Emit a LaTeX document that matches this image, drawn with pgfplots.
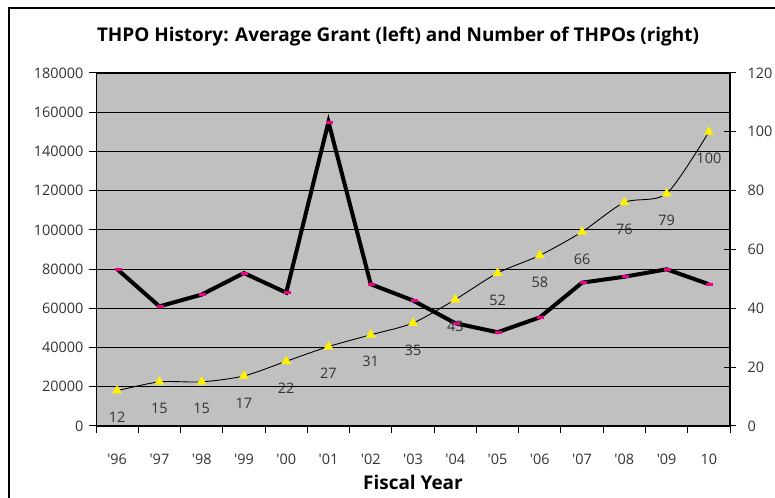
\documentclass[border=0pt]{standalone}
\usepackage{pgfplots}
\pgfplotsset{compat=1.18}
\usepackage{fontspec}
\setmainfont{Open Sans}
\definecolor{plotgray}{HTML}{C0C0C0}
\definecolor{txtgray}{HTML}{333333}
\begin{document}
\begin{tikzpicture}[x=1bp,y=1bp]
\clip (0,0) rectangle (775,498);
\useasboundingbox (0,0) rectangle (775,498);
\fill[white] (0,0) rectangle (775,498);
\draw[line width=1.2bp] (9,-20) rectangle (800,490);
\node[font=\bfseries\fontsize{19}{21}\selectfont] at (398,461) {THPO History: Average Grant (left) and Number of THPOs (right)};
\node[font=\bfseries\fontsize{19}{21}\selectfont] at (413,16) {Fiscal Year};
\begin{axis}[
  at={(96bp,72bp)}, anchor=south west,
  scale only axis, width=634bp, height=353bp,
  xmin=-0.5, xmax=14.5, ymin=0, ymax=180000,
  axis background/.style={fill=plotgray},
  axis line style={black, line width=1bp},
  xtick={0,...,14},
  xticklabels={{\textquotesingle 96},{\textquotesingle 97},{\textquotesingle 98},{\textquotesingle 99},{\textquotesingle 00},{\textquotesingle 01},{\textquotesingle 02},{\textquotesingle 03},{\textquotesingle 04},{\textquotesingle 05},{\textquotesingle 06},{\textquotesingle 07},{\textquotesingle 08},{\textquotesingle 09},10},
  minor xtick={-0.5,0.5,...,14.5},
  major x tick style={draw=none},
  minor tick length=7bp,
  ytick={0,20000,...,180000},
  yticklabels={0,20000,40000,60000,80000,100000,120000,140000,160000,180000},
  scaled y ticks=false,
  major tick length=7bp,
  tick align=outside,
  tick style={black, line width=1bp},
  ymajorgrids, grid style={black, line width=0.8bp},
  axis y line*=left,
  axis x line*=bottom,
  ticklabel style={font=\fontsize{14.5}{16}\selectfont, text=txtgray},
  xticklabel style={yshift=-18bp},
  yticklabel style={xshift=-2bp},
  clip=false,
]
\addplot[black, line width=4bp, mark=-, mark size=3.5bp, mark options={draw=magenta, line width=3bp, xshift=1bp}]
coordinates {(0,80000)(1,61000)(2,67000)(3,78000)(4,68000)(5,155000)(6,72300)(7,64000)(8,52400)(9,47800)(10,55400)(11,73100)(12,76100)(13,79900)(14,72300)};
\draw[black, line width=1bp] (rel axis cs:0,1) -- (rel axis cs:1,1);
\end{axis}
\begin{axis}[
  at={(96bp,72bp)}, anchor=south west,
  scale only axis, width=634bp, height=353bp,
  xmin=-0.5, xmax=14.5, ymin=0, ymax=120,
  axis y line*=right, axis x line=none,
  axis line style={black, line width=1.5bp},
  ytick={0,20,...,120},
  yticklabels={0,20,40,60,80,100,120},
  tick align=center, major tick length=12bp,
  tick style={black, line width=1bp},
  ticklabel style={font=\fontsize{14.5}{16}\selectfont, text=txtgray},
  yticklabel style={xshift=8bp},
  clip=false,
  point meta=explicit symbolic,
  nodes near coords,
  every node near coord/.append style={anchor=center, yshift=-27bp, font=\fontsize{14.5}{16}\selectfont, text=txtgray},
]
\addplot[black, line width=0.9bp, smooth, tension=0.45, mark=triangle*, mark size=5.5bp, mark options={fill=yellow, draw=yellow, line width=0.1bp}]
coordinates {(0,12)[12] (1,15)[15] (2,15)[15] (3,17)[17] (4,22)[22] (5,27)[27] (6,31)[31] (7,35)[35] (8,43)[43] (9,52)[52] (10,58)[58] (11,66)[66] (12,76)[76] (13,79)[79] (14,100)[100]};
\end{axis}
\end{tikzpicture}
\end{document}
